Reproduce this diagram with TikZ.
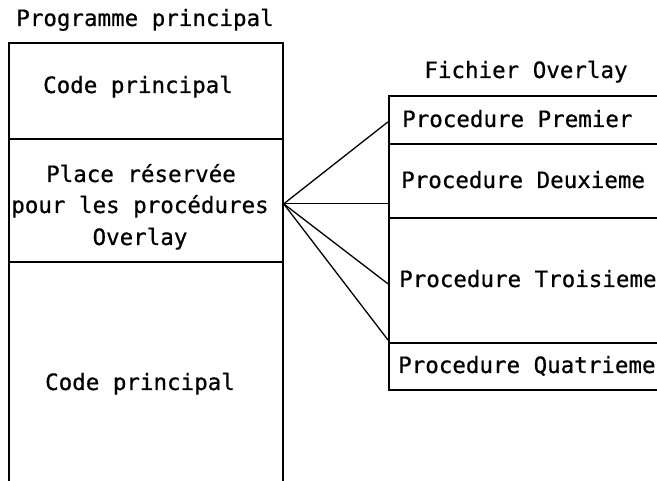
\documentclass[tikz,border=0pt]{standalone}
\usepackage{fontspec}
\setmainfont{DejaVu Sans Mono}[FakeBold=0.6]
\begin{document}
\begin{tikzpicture}[x=1pt,y=-1pt,
  box/.style={draw, line width=1.7pt, rectangle, inner sep=0pt, anchor=north west},
  lbl/.style={font=\fontsize{22.5}{31}\selectfont, inner sep=0pt, anchor=base},
  lblw/.style={lbl, anchor=base west},
  link/.style={line width=1.3pt}]
\useasboundingbox (0,0) rectangle (657,481);
\clip (0,0) rectangle (657,481);

% main program memory map (open at the bottom)
\node[box, minimum width=274, minimum height=96]  (main1)   at (8,42)  {};
\node[box, minimum width=274, minimum height=123] (overlay) at (8,138) {};
\node[box, minimum width=274, minimum height=240] (main2)   at (8,261) {};

% overlay file (open on the right)
\node[box, minimum width=300, minimum height=48]  (p1) at (388,95)  {};
\node[box, minimum width=300, minimum height=74]  (p2) at (388,143) {};
\node[box, minimum width=300, minimum height=125] (p3) at (388,217) {};
\node[box, minimum width=300, minimum height=47]  (p4) at (388,342) {};

% texts
\node[lbl] (ttl) at (145,26) {Programme principal};
\node[lbl] (c1)  at (138,93) {Code principal};
\node[lbl] (ov1) at (141,182) {Place réservée};
\node[lbl] (ov2) at (140,213) {pour les procédures};
\node[lbl] (ov3) at (140,245) {Overlay};
\node[lbl] (c2)  at (140,390) {Code principal};
\node[lbl] (fic) at (526,78) {Fichier Overlay};
\node[lblw] (t1) at (402,127) {Procedure Premier};
\node[lblw] (t2) at (401,188) {Procedure Deuxieme};
\node[lblw] (t3) at (399,287) {Procedure Troisieme};
\node[lblw] (t4) at (398,373) {Procedure Quatrieme};

% fan of links from the reserved area to each procedure
\coordinate (fan) at ([yshift=-3.5pt]overlay.east);
\coordinate (e1) at ([yshift=-2pt]p1.west);
\coordinate (e2) at ([yshift=-23pt]p2.west);
\coordinate (e3) at ([yshift=-3.5pt]p3.west);
\coordinate (e4) at ([yshift=2pt]p4.north west);
\draw[link] (fan) -- (e1);
\draw[link] (fan) -- (e2);
\draw[link] (fan) -- (e3);
\draw[link] (fan) -- (e4);
\end{tikzpicture}
\end{document}
